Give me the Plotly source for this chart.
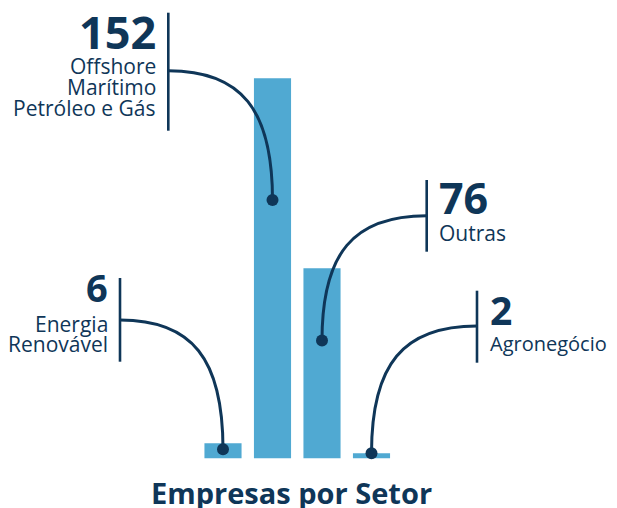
import plotly.graph_objects as go

# ---------------- data ----------------
categories = ["Energia Renovável", "Offshore Marítimo Petróleo e Gás", "Outras", "Agronegócio"]
values = [6, 152, 76, 2]
value_labels = ["6", "152", "76", "2"]
name_lines = [["Energia", "Renovável"], ["Offshore", "Marítimo", "Petróleo e Gás"], ["Outras"], ["Agronegócio"]]
title_text = "Empresas por Setor"

# ---------------- style / layout ----------------
PAGE_W, PAGE_H = 617, 508
OFF = 8                      # default body margin of the html page
W, H = PAGE_W - OFF, PAGE_H - OFF
NAVY = "#0f3658"
BLUE = "#50a9d2"
FONT = "Open Sans"

PX_PER_X = 49.5     # pixels per category step
X0_PX = 223         # page pixel x of first category
PX_PER_Y = 2.5      # pixels per unit of value
BASE_PX = 458.3     # page pixel y of the zero line

x_lo = -(X0_PX - OFF) / PX_PER_X
x_hi = x_lo + W / PX_PER_X
y_lo = -(H - (BASE_PX - OFF)) / PX_PER_Y
y_hi = y_lo + H / PX_PER_Y


def dx(px):
    return x_lo + (px - OFF) / PX_PER_X


def dy(py):
    return y_lo + (H - (py - OFF)) / PX_PER_Y


callouts = [
    dict(side="left", bar_x=120, y0=278, y1=361.7, hook_y=320, num_size=38, num_base=301.7,
         line_bases=[331.7, 352.3], dot_frac=0.6, sub_size=21),
    dict(side="left", bar_x=168.3, y0=12.7, y1=130.7, hook_y=70.7, num_size=45, num_base=49,
         line_bases=[74, 95, 116], dot_frac=0.68, sub_size=21),
    dict(side="right", bar_x=426.7, y0=180, y1=251.7, hook_y=215.7, num_size=43, num_base=214,
         line_bases=[241], dot_frac=0.62, sub_size=21),
    dict(side="right", bar_x=477, y0=290.7, y1=362.7, hook_y=326, num_size=39, num_base=325,
         line_bases=[351.5], dot_frac=1.0, sub_size=20),
]
GAP = 12.5
K = 0.7

xs = list(range(len(categories)))

fig = go.Figure()
fig.add_trace(go.Bar(x=xs, y=values, marker=dict(color=BLUE, line=dict(width=0)),
                     hoverinfo="skip", showlegend=False))

dot_x, dot_y = [], []
shapes, annotations = [], []
for i, (v, c) in enumerate(zip(values, callouts)):
    ex, ey = i, v * c["dot_frac"]
    dot_x.append(ex)
    dot_y.append(ey)
    sx, sy = dx(c["bar_x"]), dy(c["hook_y"])
    c1x, c1y = sx + K * (ex - sx), sy
    c2x, c2y = ex, ey + K * (sy - ey)
    shapes.append(dict(type="path", xref="x", yref="y",
                       path=f"M {sx},{sy} C {c1x},{c1y} {c2x},{c2y} {ex},{ey}",
                       line=dict(color=NAVY, width=3)))
    shapes.append(dict(type="line", xref="x", yref="y",
                       x0=sx, x1=sx, y0=dy(c["y0"]), y1=dy(c["y1"]),
                       line=dict(color=NAVY, width=2.6)))
    if c["side"] == "left":
        tx, anchor = dx(c["bar_x"] - GAP), "right"
    else:
        tx, anchor = dx(c["bar_x"] + GAP), "left"
    annotations.append(dict(x=tx, y=dy(c["num_base"] - 0.388 * c["num_size"]), xref="x", yref="y",
                            text=f"<b>{value_labels[i]}</b>", showarrow=False,
                            xanchor=anchor, yanchor="middle", borderpad=0, borderwidth=0,
                            font=dict(family=FONT, size=c["num_size"], color=NAVY)))
    ss = c["sub_size"]
    for line_txt, base in zip(name_lines[i], c["line_bases"]):
        annotations.append(dict(x=tx, y=dy(base - 0.388 * ss), xref="x", yref="y",
                                text=line_txt, showarrow=False,
                                xanchor=anchor, yanchor="middle", borderpad=0, borderwidth=0,
                                font=dict(family=FONT, size=ss, color=NAVY)))

fig.add_trace(go.Scatter(x=dot_x, y=dot_y, mode="markers",
                         marker=dict(color=NAVY, size=12, line=dict(width=0)),
                         hoverinfo="skip", showlegend=False))

TITLE_SIZE = 29
annotations.append(dict(x=dx(291), y=dy(504 - 0.388 * TITLE_SIZE), xref="x", yref="y",
                        text=f"<b>{title_text}</b>", showarrow=False,
                        xanchor="center", yanchor="middle", borderpad=0, borderwidth=0,
                        font=dict(family=FONT, size=TITLE_SIZE, color=NAVY)))

fig.update_layout(
    width=W, height=H, autosize=False,
    margin=dict(l=0, r=0, t=0, b=0, pad=0),
    paper_bgcolor="white", plot_bgcolor="white",
    bargap=0.25,
    xaxis=dict(range=[x_lo, x_hi], visible=False, fixedrange=True),
    yaxis=dict(range=[y_lo, y_hi], visible=False, fixedrange=True),
    shapes=shapes, annotations=annotations,
    font=dict(family=FONT, color=NAVY),
)

fig.write_html("out.html", config={"displayModeBar": False, "staticPlot": True})
